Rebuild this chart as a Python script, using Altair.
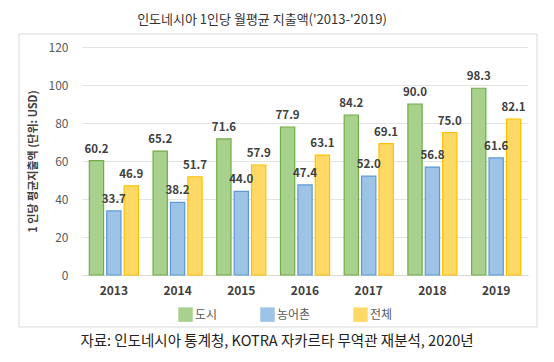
import altair as alt
import pandas as pd

years = ["2013", "2014", "2015", "2016", "2017", "2018", "2019"]
series = ["도시", "농어촌", "전체"]
city = [60.2, 65.2, 71.6, 77.9, 84.2, 90.0, 98.3]
rural = [33.7, 38.2, 44.0, 47.4, 52.0, 56.8, 61.6]
total = [46.9, 51.7, 57.9, 63.1, 69.1, 75.0, 82.1]
y_ticks = [0, 20, 40, 60, 80, 100, 120]
fills = ["#a9d18e", "#9dc3e6", "#ffd966"]
strokes = ["#70ad47", "#5b9bd5", "#ffc000"]

rows = []
for s, vals in zip(series, [city, rural, total]):
    for y, v in zip(years, vals):
        rows.append({"year": y, "series": s, "value": v, "label": f"{v:.1f}"})
df = pd.DataFrame(rows)

FONT = "Noto Sans CJK KR"
W, H = 446, 228

x = alt.X("year:N", sort=years, title=None,
          scale=alt.Scale(paddingInner=0.23, paddingOuter=0.115),
          axis=alt.Axis(labelAngle=0, labelFontWeight="bold", labelFontSize=12,
                        labelColor="#404040", labelFont=FONT, ticks=False,
                        domainColor="#d9d9d9", labelPadding=10))
xo = alt.XOffset("series:N", sort=series, scale=alt.Scale(paddingInner=0.18))
y = alt.Y("value:Q", scale=alt.Scale(domain=[0, 120]),
          title="1 인당 평균지출액 (단위: USD)",
          axis=alt.Axis(values=y_ticks, domain=False, ticks=False, labelOverlap=False,
                        gridColor="#e3e3e3", labelColor="#595959", labelFontSize=12,
                        labelFont=FONT, labelPadding=14, titleFont=FONT,
                        titleFontSize=11, titleFontWeight="bold", titleColor="#404040",
                        titlePadding=10))

base = alt.Chart(df)
bars = base.mark_bar(strokeWidth=1.2).encode(
    x=x, xOffset=xo, y=y,
    color=alt.Color("series:N", sort=series,
                    scale=alt.Scale(domain=series, range=fills),
                    legend=alt.Legend(title=None, orient="none", legendX=96, legendY=260,
                                      direction="horizontal", symbolType="square",
                                      symbolSize=210, symbolStrokeWidth=0,
                                      labelFont=FONT, labelFontSize=12,
                                      labelColor="#595959", columnPadding=42,
                                      labelOffset=2)),
    stroke=alt.Stroke("series:N", sort=series,
                      scale=alt.Scale(domain=series, range=strokes), legend=None),
)
labels = base.mark_text(baseline="bottom", dy=-6, fontWeight="bold", fontSize=11.5,
                        color="#404040", font=FONT).encode(
    x=x, xOffset=xo, y=y, text="label:N")

box = alt.Chart(alt.Data(values=[{}])).mark_rect(
    fill=None, stroke="#d9d9d9", strokeWidth=1).encode(
    x=alt.value(-63), x2=alt.value(455), y=alt.value(-13), y2=alt.value(280))

caption = alt.Chart(alt.Data(values=[{"t": "자료: 인도네시아 통계청, KOTRA 자카르타 무역관 재분석, 2020년"}])).mark_text(
    align="center", baseline="middle", fontSize=14.5, font=FONT, color="#222222").encode(
    x=alt.value(195), y=alt.value(295), text="t:N")

chart = alt.layer(box, bars, labels, caption).properties(
    width=W, height=H,
    autosize=alt.AutoSizeParams(type="none"),
    padding={"left": 74, "top": 39, "right": 18, "bottom": 79},
    title=alt.TitleParams("인도네시아 1인당 월평균 지출액('2013-'2019)", font=FONT,
                          fontSize=13, fontWeight="normal", color="#333333",
                          anchor="middle", dx=-43, offset=7),
).configure_view(stroke=None)

chart.save("out.html", embed_options={"renderer": "svg", "actions": False})
